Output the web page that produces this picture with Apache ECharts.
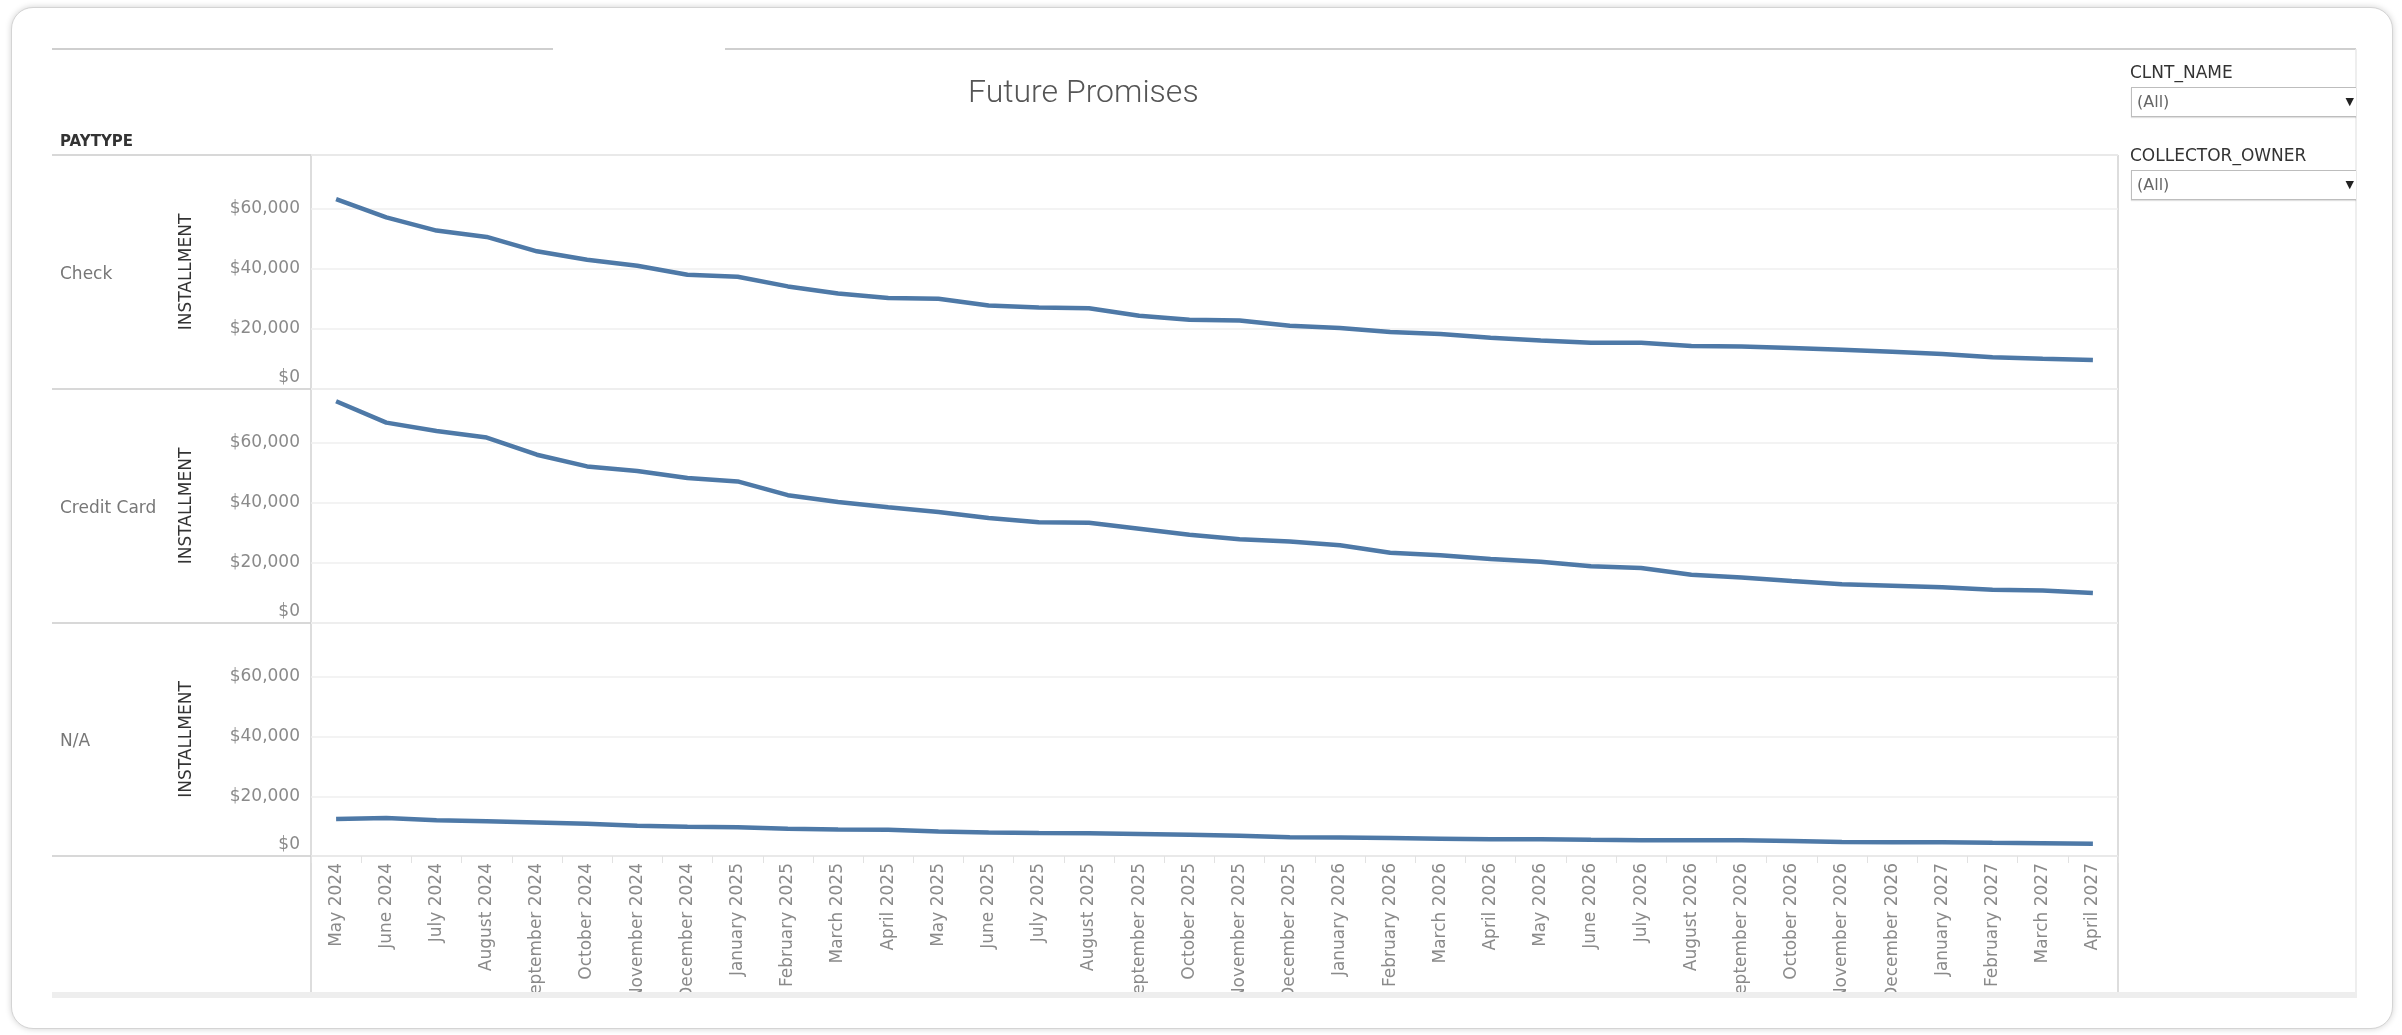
<!DOCTYPE html>
<html>
<head>
<meta charset="utf-8">
<title>Future Promises</title>
<script src="https://cdn.jsdelivr.net/npm/echarts@6/dist/echarts.min.js"></script>
<style>
html, body { margin: 0; padding: 0; background: #fff; overflow: hidden; }
#card {
  position: absolute; left: 11px; top: 7px; width: 2380px; height: 1020px;
  border: 1px solid #d4d4d4; border-radius: 22px; background: #fff;
  box-shadow: 0 0 6px rgba(0, 0, 0, 0.18);
}
#main { position: absolute; left: 0; top: 0; width: 2402px; height: 1035px; }
.flt {
  position: absolute; left: 2130px; z-index: 5;
  font-family: "DejaVu Sans"; font-size: 17px; color: #333;
}
.box {
  position: absolute; left: 2131px; width: 225px; height: 30px; z-index: 5;
  border: 1px solid #bdbdbd; border-right: none; box-sizing: border-box;
  box-shadow: 0 1px 1px rgba(0, 0, 0, 0.12);
  font-family: "DejaVu Sans"; font-size: 16px; color: #666;
  line-height: 28px; padding-left: 5px; background: #fff;
}
.box span { position: absolute; right: 2px; top: 0; color: #222; font-size: 11px; }
</style>
</head>
<body>
<div id="card"></div>
<div id="main"></div>

<div class="flt" style="top:62px;">CLNT_NAME</div>
<div class="box" style="top:87px;">(All)<span>&#9660;</span></div>
<div class="flt" style="top:145px;">COLLECTOR_OWNER</div>
<div class="box" style="top:170px;">(All)<span>&#9660;</span></div>

<script>
// months on the x axis
var months = [
  "May 2024", "June 2024", "July 2024", "August 2024", "September 2024", "October 2024",
  "November 2024", "December 2024", "January 2025", "February 2025", "March 2025", "April 2025",
  "May 2025", "June 2025", "July 2025", "August 2025", "September 2025", "October 2025",
  "November 2025", "December 2025", "January 2026", "February 2026", "March 2026", "April 2026",
  "May 2026", "June 2026", "July 2026", "August 2026", "September 2026", "October 2026",
  "November 2026", "December 2026", "January 2027", "February 2027", "March 2027", "April 2027"
];

// installment per pay type
var checkVals = [
  63300, 57200, 52800, 50700, 45900, 43100, 41100, 38100, 37400, 34200, 31800, 30300,
  30100, 27800, 27200, 26900, 24400, 23100, 22800, 21100, 20300, 19000, 18300, 17100,
  16200, 15400, 15400, 14300, 14200, 13700, 13100, 12400, 11700, 10600, 10100, 9700
];
var creditVals = [
  73900, 66800, 64000, 61800, 56100, 52200, 50700, 48300, 47200, 42600, 40300, 38600,
  37000, 35000, 33600, 33400, 31400, 29400, 27900, 27200, 25900, 23400, 22600, 21300,
  20400, 18900, 18300, 16100, 15200, 14000, 12900, 12400, 11900, 11100, 10800, 10000
];
var naVals = [
  12400, 12700, 12000, 11600, 11200, 10800, 10100, 9800, 9600, 9100, 8900, 8800,
  8200, 7900, 7700, 7600, 7400, 7100, 6800, 6300, 6200, 6000, 5800, 5600,
  5600, 5400, 5300, 5300, 5300, 5000, 4700, 4600, 4600, 4400, 4300, 4100
];

var payTypes = ["Check", "Credit Card", "N/A"];
var yMax = 78000;
var yStep = 20000;

var font = "DejaVu Sans";
var lineColor = "#4e79a7";

var chart = echarts.init(document.getElementById("main"));

var panels = [checkVals, creditVals, naVals];
var tops = [155, 389, 623];
var heights = [234, 234, 233];

var grids = [], xAxes = [], yAxes = [], series = [];
var graphics = [];

panels.forEach(function (vals, i) {
  grids.push({ left: 311, right: 284, top: tops[i], height: heights[i] });

  var last = i === panels.length - 1;
  xAxes.push({
    type: "category",
    gridIndex: i,
    data: months,
    boundaryGap: true,
    axisLine: { show: false },
    axisTick: last ? { show: true, length: 7, lineStyle: { color: "#e2e2e2" } } : { show: false },
    axisLabel: last ? {
      interval: 0, rotate: 90, margin: 7,
      fontFamily: font, fontSize: 17, color: "#8a8a8a"
    } : { show: false },
    splitLine: { show: false }
  });

  yAxes.push({
    type: "value",
    gridIndex: i,
    min: 0,
    max: yMax,
    interval: yStep,
    name: "INSTALLMENT",
    nameLocation: "middle",
    nameGap: 116,
    nameTextStyle: { fontFamily: font, fontSize: 17, color: "#333" },
    axisLine: { show: false },
    axisTick: { show: false },
    axisLabel: {
      margin: 11,
      fontFamily: font, fontSize: 17, color: "#8a8a8a",
      formatter: function (v) {
        if (v % yStep !== 0) return "";
        if (v === 0) return "{z|$0}";
        return "$" + v.toLocaleString("en-US");
      },
      rich: { z: { padding: [0, 0, 22, 0], fontFamily: font, fontSize: 17, color: "#8a8a8a" } }
    },
    splitLine: { lineStyle: { color: "#efefef", width: 1.5 } }
  });

  series.push({
    name: payTypes[i],
    type: "line",
    xAxisIndex: i,
    yAxisIndex: i,
    data: vals,
    symbol: "none",
    smooth: false,
    color: lineColor,
    lineStyle: { color: lineColor, width: 4.5 }
  });

  // pay type row header
  graphics.push({
    type: "text", left: 60, top: tops[i] + heights[i] / 2 - 6,
    style: { text: payTypes[i], font: "17px 'DejaVu Sans'", fill: "#777" }
  });
});

function hline(x1, x2, y, color, w) {
  return { type: "line", shape: { x1: x1, y1: y, x2: x2, y2: y }, style: { stroke: color, lineWidth: w || 1.5 } };
}
function vline(x, y1, y2, color, w) {
  return { type: "line", shape: { x1: x, y1: y1, x2: x, y2: y2 }, style: { stroke: color, lineWidth: w || 1.5 } };
}

// frame lines of the worksheet
graphics.push(hline(52, 553, 49, "#cfcfcf", 2));
graphics.push(hline(725, 2356, 49, "#cfcfcf", 2));
graphics.push(vline(2356, 49, 998, "#e8e8e8", 1.5));
graphics.push(hline(52, 2118, 155, "#cbcbcb"));
graphics.push(hline(52, 2118, 389, "#cbcbcb"));
graphics.push(hline(52, 2118, 623, "#cbcbcb"));
graphics.push(hline(52, 2118, 856, "#cbcbcb"));
graphics.push(vline(311, 155, 992, "#d2d2d2"));
graphics.push(vline(2118, 155, 992, "#d2d2d2"));

// cover overflowing month labels and draw the bottom band
graphics.push({ type: "rect", z: 100, shape: { x: 40, y: 998, width: 2330, height: 24 }, style: { fill: "#fff" } });
graphics.push({ type: "rect", z: 101, shape: { x: 52, y: 992, width: 2304, height: 6 }, style: { fill: "#eeeeee" } });

graphics.push({
  type: "text", left: 60, top: 135,
  style: { text: "PAYTYPE", font: "bold 15px 'DejaVu Sans'", fill: "#333" }
});
graphics.push({
  type: "text", left: 968, top: 78,
  style: { text: "Future Promises", font: "300 32px Roboto", fill: "#555" }
});

var option = {
  animation: false,
  backgroundColor: "transparent",
  grid: grids,
  xAxis: xAxes,
  yAxis: yAxes,
  series: series,
  graphic: graphics
};

chart.setOption(option);
</script>
</body>
</html>
